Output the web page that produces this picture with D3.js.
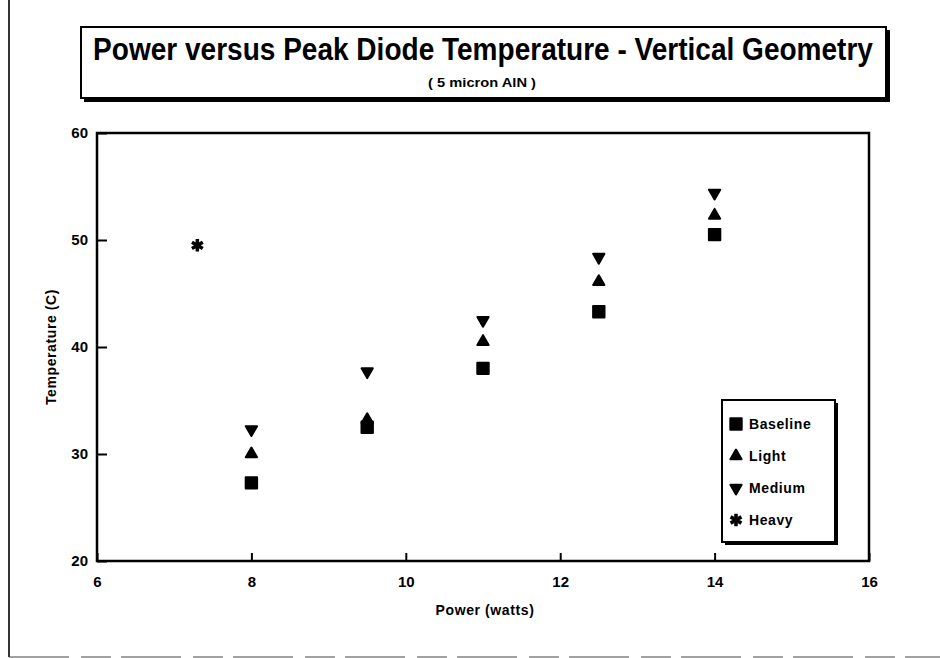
<!DOCTYPE html>
<html><head><meta charset="utf-8">
<script src="https://cdn.jsdelivr.net/npm/d3@7"></script>
<style>
html,body{margin:0;padding:0;background:#fff;}
svg{display:block;}
text{font-family:"Liberation Sans",Arial,sans-serif;font-weight:bold;fill:#000;}
</style></head>
<body><svg id="c" width="940" height="658"></svg>
<script>
const powerBaseline = [8, 9.5, 11, 12.5, 14];
const tempBaseline = [27.3, 32.5, 38.0, 43.3, 50.5];
const powerLight = [8, 9.5, 11, 12.5, 14];
const tempLight = [30.0, 33.2, 40.5, 46.1, 52.3];
const powerMedium = [8, 9.5, 11, 12.5, 14];
const tempMedium = [32.3, 37.7, 42.5, 48.4, 54.4];
const powerHeavy = [7.3];
const tempHeavy = [49.5];
const seriesNames = ["Baseline", "Light", "Medium", "Heavy"];
const xTicks = [6, 8, 10, 12, 14, 16];
const yTicks = [20, 30, 40, 50, 60];
const titleText = "Power versus Peak Diode Temperature - Vertical Geometry";
const subtitleText = "( 5 micron AlN )";
const xLabel = "Power (watts)";
const yLabel = "Temperature (C)";

const svg = d3.select("#c");
const L = 97, R = 869, T = 133, B = 561;
const x = d3.scaleLinear().domain([6, 16]).range([L, R]);
const y = d3.scaleLinear().domain([20, 60]).range([B, T]);

// outer frame
svg.append("line").attr("x1", 9).attr("x2", 9).attr("y1", 0).attr("y2", 657)
  .attr("stroke", "#000").attr("stroke-width", 1.6);
svg.append("line").attr("x1", 9).attr("x2", 940).attr("y1", 657).attr("y2", 657)
  .attr("stroke", "#444").attr("stroke-width", 1.2).attr("stroke-dasharray", "60,12,30,10");

// title box with shadow
svg.append("rect").attr("x", 84).attr("y", 30).attr("width", 806).attr("height", 72).attr("fill", "#000");
svg.append("rect").attr("x", 81).attr("y", 27).attr("width", 805).attr("height", 71)
  .attr("fill", "#fff").attr("stroke", "#000").attr("stroke-width", 2);
function fitText(cx, cy, size, width, str) {
  const g = svg.append("g");
  const t = g.append("text").attr("text-anchor", "middle").attr("font-size", size).text(str);
  const w = t.node().getComputedTextLength();
  g.attr("transform", `translate(${cx},${cy}) scale(${Math.min(1.3, width / w)},1)`);
  return t;
}
fitText(483, 60, 31, 780, titleText);
fitText(482, 87, 12, 108, subtitleText);

// plot frame
svg.append("rect").attr("x", L).attr("y", T).attr("width", R - L).attr("height", B - T)
  .attr("fill", "none").attr("stroke", "#000").attr("stroke-width", 2.5);

// axes
const xAxis = d3.axisBottom(x).tickValues(xTicks).tickSize(-8).tickPadding(15).tickFormat(d3.format("d"));
const gx = svg.append("g").attr("transform", `translate(0,${B})`).call(xAxis);
gx.select(".domain").remove();
gx.selectAll(".tick line").attr("stroke", "#000").attr("stroke-width", 2);
gx.selectAll(".tick text").attr("font-size", 15).attr("font-family", "Liberation Sans, Arial").attr("font-weight", "bold");

const yAxis = d3.axisLeft(y).tickValues(yTicks).tickSize(-10).tickPadding(9).tickFormat(d3.format("d"));
const gy = svg.append("g").attr("transform", `translate(${L},0)`).call(yAxis);
gy.select(".domain").remove();
gy.selectAll(".tick line").attr("stroke", "#000").attr("stroke-width", 2);
gy.selectAll(".tick text").attr("font-size", 15).attr("font-family", "Liberation Sans, Arial").attr("font-weight", "bold");

svg.append("text").attr("x", 485).attr("y", 615).attr("text-anchor", "middle")
  .attr("font-size", 14).attr("letter-spacing", 0.6).text(xLabel);
svg.append("text").attr("transform", "translate(56,347) rotate(-90)").attr("text-anchor", "middle")
  .attr("font-size", 14).attr("letter-spacing", 0.6).text(yLabel);

// symbols
const sym = {
  Baseline: d3.symbol().type(d3.symbolSquare).size(130),
  Light: d3.symbol().type(d3.symbolTriangle).size(55),
  Medium: d3.symbol().type(d3.symbolTriangle).size(55),
  Heavy: d3.symbol().type(d3.symbolAsterisk).size(110)
};
function drawMarker(g, name, px, py) {
  const p = g.append("path").attr("d", sym[name]())
    .attr("transform", `translate(${px},${py})` + (name === "Medium" ? " rotate(180)" : ""));
  if (name === "Heavy") {
    p.attr("fill", "none").attr("stroke", "#000").attr("stroke-width", 3.5);
  } else {
    p.attr("fill", "#000").attr("stroke", "#000").attr("stroke-width", 2).attr("stroke-linejoin", "round");
  }
}
const data = [
  ["Baseline", powerBaseline, tempBaseline],
  ["Light", powerLight, tempLight],
  ["Medium", powerMedium, tempMedium],
  ["Heavy", powerHeavy, tempHeavy]
];
const gm = svg.append("g");
data.forEach(([name, xs, ys]) => {
  xs.forEach((v, i) => drawMarker(gm, name, x(v), y(ys[i])));
});

// legend
const lx = 722, ly = 400, lw = 113, lh = 142;
svg.append("rect").attr("x", lx + 3).attr("y", ly + 3).attr("width", lw).attr("height", lh).attr("fill", "#000");
svg.append("rect").attr("x", lx).attr("y", ly).attr("width", lw).attr("height", lh)
  .attr("fill", "#fff").attr("stroke", "#000").attr("stroke-width", 2);
const gl = svg.append("g");
seriesNames.forEach((name, i) => {
  const cy = 424 + i * 32;
  drawMarker(gl, name, lx + 14, cy);
  gl.append("text").attr("x", lx + 27).attr("y", cy + 5).attr("font-size", 14)
    .attr("letter-spacing", 0.6).text(name);
});
</script></body></html>
